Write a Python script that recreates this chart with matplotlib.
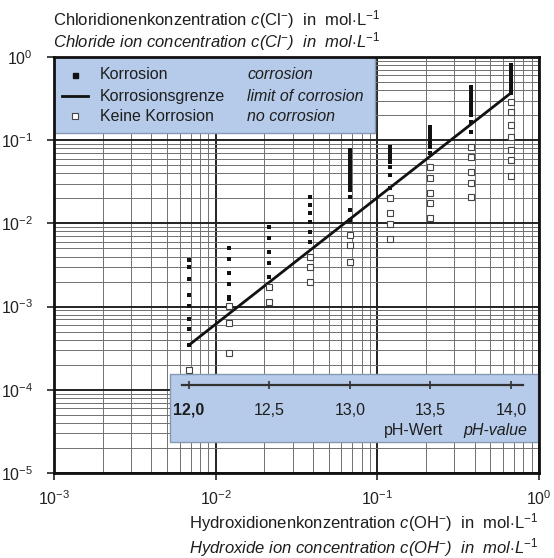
import matplotlib
matplotlib.use('Agg')
import matplotlib.pyplot as plt
from matplotlib.patches import Rectangle
from matplotlib.transforms import blended_transform_factory
from matplotlib.ticker import LogLocator, NullFormatter

plt.rcParams['font.family'] = ['Liberation Sans', 'DejaVu Sans']
plt.rcParams['mathtext.fontset'] = 'custom'
plt.rcParams['mathtext.rm'] = 'Liberation Sans'
plt.rcParams['mathtext.it'] = 'Liberation Sans:italic'
plt.rcParams['mathtext.bf'] = 'Liberation Sans:bold'

# ---------------- data ----------------
# hydroxide concentration of each test column (mol/L)
c_oh = [0.00684, 0.0121, 0.0214, 0.0383, 0.0677, 0.120, 0.211, 0.379, 0.670]

# chloride concentrations with corrosion (filled squares), per column
corrosion = [
    [0.00363, 0.00299, 0.00215, 0.00138, 0.00102, 0.000709, 0.000538, 0.000345],
    [0.00506, 0.00373, 0.00253, 0.00187, 0.00130, 0.00122],
    [0.00905, 0.00668, 0.00453, 0.00334, 0.00227],
    [0.0208, 0.0166, 0.0133, 0.0104, 0.00788, 0.00598],
    [0.0762, 0.0682, 0.0611, 0.0547, 0.0490, 0.0438, 0.0393, 0.0351, 0.0315,
     0.0282, 0.0252, 0.0208, 0.0145, 0.0110],
    [0.0829, 0.0762, 0.0682, 0.0611, 0.0547, 0.0476, 0.0382, 0.0266],
    [0.144, 0.129, 0.115, 0.103, 0.0925, 0.0829, 0.0702],
    [0.436, 0.390, 0.349, 0.313, 0.280, 0.251, 0.224, 0.201, 0.166, 0.126],
    [0.801, 0.718, 0.642, 0.575, 0.515, 0.461, 0.412, 0.369],
]

# chloride concentrations without corrosion (open squares), per column
no_corrosion = [
    [0.000173],
    [0.00102, 0.000635, 0.000277],
    [0.00172, 0.00114],
    [0.00395, 0.00299, 0.00198],
    [0.00726, 0.00550, 0.00344],
    [0.0202, 0.0133, 0.00984, 0.00649],
    [0.0476, 0.0351, 0.0232, 0.0176, 0.0116],
    [0.0829, 0.0628, 0.0415, 0.0306, 0.0208],
    [0.288, 0.218, 0.152, 0.109, 0.0762, 0.0578, 0.0372],
]

# limit of corrosion line
limit_oh = [0.00684, 0.670]
limit_cl = [0.000345, 0.369]

# pH scale
ph_labels = ['12,0', '12,5', '13,0', '13,5', '14,0']
ph_tick_oh = [0.00684, 0.0214, 0.0677, 0.211, 0.670]
ph_line_oh = [0.0062, 0.795]

# ---------------- figure ----------------
W, H = 554, 558
fig = plt.figure(figsize=(W / 100, H / 100), dpi=100)
ax = fig.add_axes([54 / W, 1 - 473 / H, 485 / W, 416 / H])
ax.set_xscale('log')
ax.set_yscale('log')
ax.set_xlim(1e-3, 1)
ax.set_ylim(1e-5, 1)

ax.xaxis.set_major_locator(LogLocator(base=10, numticks=10))
ax.yaxis.set_major_locator(LogLocator(base=10, numticks=10))
ax.xaxis.set_minor_locator(LogLocator(base=10, subs=range(2, 10), numticks=20))
ax.yaxis.set_minor_locator(LogLocator(base=10, subs=range(2, 10), numticks=20))
ax.xaxis.set_minor_formatter(NullFormatter())
ax.yaxis.set_minor_formatter(NullFormatter())

ax.set_axisbelow(True)
ax.grid(which='major', color='#222222', lw=1.4)
ax.grid(which='minor', color='#707070', lw=0.7)
for s in ax.spines.values():
    s.set_linewidth(2.0)
    s.set_color('#111111')
ax.tick_params(which='major', direction='out', length=5, width=1.2,
               labelsize=11.5, colors='#222222')
ax.tick_params(axis='y', which='major', pad=10)
ax.tick_params(axis='x', which='major', pad=7)
ax.tick_params(which='minor', length=0)

box_color = '#b6cbe9'
box_edge = '#8699b3'
txt = '#1e1e1e'

# legend box (axes coords)
ax.add_patch(Rectangle((0.0, 0.817), 0.662, 0.183, transform=ax.transAxes,
                       facecolor=box_color, edgecolor=box_edge, lw=1.0,
                       zorder=2))
rows = [0.957, 0.906, 0.858]
ax.plot([0.043], [rows[0]], 's', color='#111111', ms=3.6,
        transform=ax.transAxes, zorder=4)
ax.plot([0.016, 0.070], [rows[1], rows[1]], '-', color='#111111', lw=2.0,
        transform=ax.transAxes, zorder=4)
ax.plot([0.043], [rows[2]], 's', mfc='white', mec='#444444', mew=0.8, ms=4.0,
        transform=ax.transAxes, zorder=4)
de_texts = ['Korrosion', 'Korrosionsgrenze', 'Keine Korrosion']
en_texts = ['corrosion', 'limit of corrosion', 'no corrosion']
for r, d, e in zip(rows, de_texts, en_texts):
    ax.text(0.095, r, d, transform=ax.transAxes, fontsize=11.5, va='center',
            ha='left', color=txt, zorder=5)
    ax.text(0.398, r, e, transform=ax.transAxes, fontsize=11.5, va='center',
            ha='left', style='italic', color=txt, zorder=5)

# pH box
ax.add_patch(Rectangle((0.239, 0.0745), 0.759, 0.1635, transform=ax.transAxes,
                       facecolor=box_color, edgecolor=box_edge, lw=1.0,
                       zorder=2))
bt = blended_transform_factory(ax.transData, ax.transAxes)
ax.plot(ph_line_oh, [0.2115, 0.2115], '-', color='#333333', lw=1.6,
        transform=bt, zorder=4)
ax.plot(ph_tick_oh, [0.2115] * len(ph_tick_oh), '|', color='#333333',
        ms=6, mew=1.2, transform=bt, zorder=4)
for i, (xo, lab) in enumerate(zip(ph_tick_oh, ph_labels)):
    ax.text(xo, 0.151, lab, transform=bt, ha='center', va='center',
            fontsize=11.5, fontweight='bold' if i == 0 else 'normal',
            color=txt, zorder=5)
ax.text((443 - 54) / 485, 0.103, 'pH-Wert', transform=ax.transAxes,
        ha='right', va='center', fontsize=11.5, color=txt, zorder=5)
ax.text((527 - 54) / 485, 0.103, 'pH-value', transform=ax.transAxes,
        ha='right', va='center', fontsize=11.5, style='italic',
        color=txt, zorder=5)

# data
for xo, ys in zip(c_oh, corrosion):
    ax.plot([xo] * len(ys), ys, 's', color='#111111', ms=3.4, mew=0,
            zorder=6)
for xo, ys in zip(c_oh, no_corrosion):
    ax.plot([xo] * len(ys), ys, 's', mfc='white', mec='#444444', mew=0.8,
            ms=3.8, zorder=6)
ax.plot(limit_oh, limit_cl, '-', color='#111111', lw=2.0, zorder=5)

# axis titles
fs_title = 12
fig.text(53 / W, 1 - 20 / H,
         r'Chloridionenkonzentration $c$(Cl$^{-}$)  in  mol$\cdot$L$^{-1}$',
         fontsize=fs_title, va='center', ha='left', color=txt)
fig.text(53 / W, 1 - 42 / H,
         r'Chloride ion concentration $c$(Cl$^{-}$)  in  mol$\cdot$L$^{-1}$',
         fontsize=fs_title, va='center', ha='left', style='italic', color=txt)
fig.text(538 / W, 1 - 523 / H,
         r'Hydroxidionenkonzentration $c$(OH$^{-}$)  in  mol$\cdot$L$^{-1}$',
         fontsize=fs_title, va='center', ha='right', color=txt)
fig.text(538 / W, 1 - 548 / H,
         r'Hydroxide ion concentration $c$(OH$^{-}$)  in  mol$\cdot$L$^{-1}$',
         fontsize=fs_title, va='center', ha='right', style='italic', color=txt)

fig.savefig('out.png', dpi=100)
